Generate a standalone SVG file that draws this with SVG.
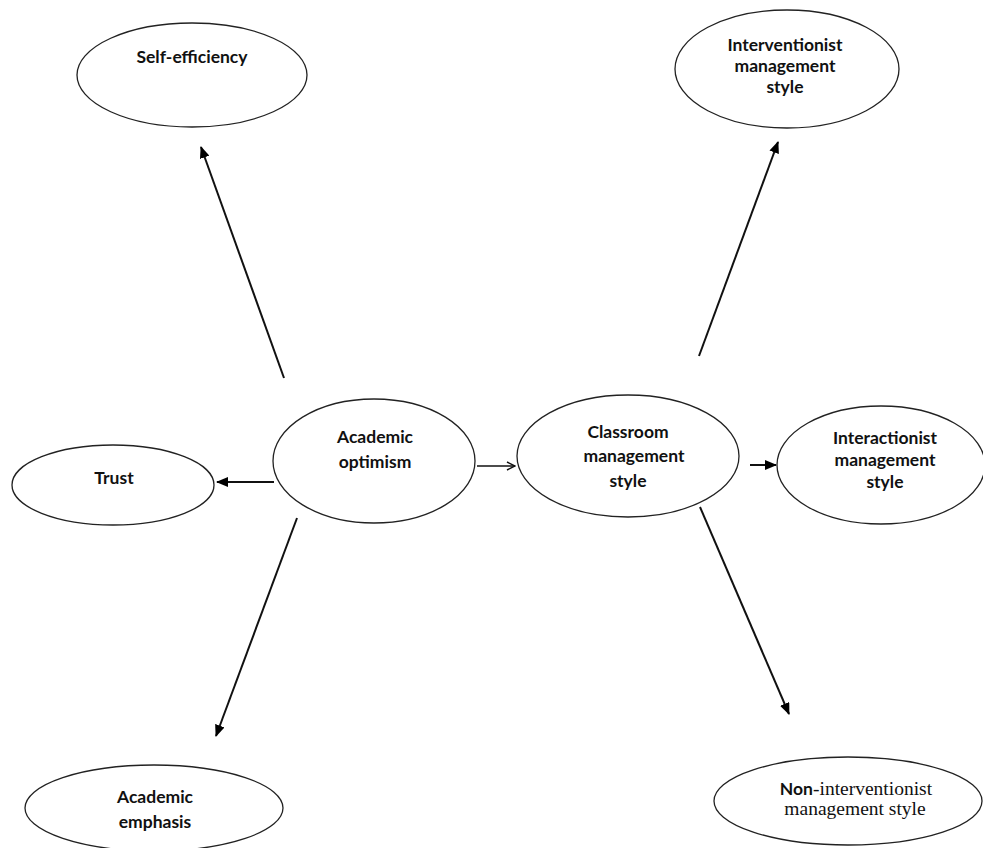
<svg xmlns="http://www.w3.org/2000/svg" width="983" height="848" viewBox="0 0 983 848">
<style>
.n{fill:#fff;stroke:#222;stroke-width:1.3}
.t{font-family:Lato,"Liberation Sans",sans-serif;font-weight:700;font-size:17.5px;fill:#111;text-anchor:middle}
.s{font-family:"Liberation Serif",serif;font-size:19.5px;fill:#111;text-anchor:middle}
.c{stroke:#111;stroke-width:2;fill:none}
</style>
<defs>
<marker id="a" markerWidth="12" markerHeight="10" refX="11" refY="5" orient="auto" markerUnits="userSpaceOnUse">
<path d="M0,0 L12,5 L0,10 Z" fill="#000"/>
</marker>
<marker id="o" markerWidth="10" markerHeight="10" refX="9" refY="5" orient="auto" markerUnits="userSpaceOnUse">
<path d="M1,1 L9,5 L1,9" fill="none" stroke="#111" stroke-width="1.5"/>
</marker>
</defs>
<g id="connectors">
<line class="c" x1="284" y1="378" x2="201" y2="147" marker-end="url(#a)"/>
<line class="c" x1="274" y1="482" x2="217" y2="482" marker-end="url(#a)"/>
<line class="c" x1="297" y1="518" x2="216" y2="736" marker-end="url(#a)"/>
<line class="c" style="stroke-width:1.5" x1="477" y1="466" x2="515" y2="466" marker-end="url(#o)"/>
<line class="c" x1="699" y1="356" x2="778" y2="142" marker-end="url(#a)"/>
<line class="c" x1="750" y1="465" x2="776" y2="465" marker-end="url(#a)"/>
<line class="c" x1="700" y1="507" x2="789" y2="714" marker-end="url(#a)"/>
</g>
<g id="self-efficiency">
<ellipse class="n" cx="192" cy="75" rx="115" ry="52"/>
<text class="t" x="192" y="63">Self-efficiency</text>
</g>
<g id="interventionist">
<ellipse class="n" cx="787" cy="69" rx="112" ry="59"/>
<text class="t" x="785" y="51">Interventionist</text>
<text class="t" x="785" y="72">management</text>
<text class="t" x="785" y="93">style</text>
</g>
<g id="trust">
<ellipse class="n" cx="113" cy="485" rx="101" ry="40"/>
<text class="t" x="114" y="484">Trust</text>
</g>
<g id="academic-optimism">
<ellipse class="n" cx="374" cy="461" rx="101" ry="62"/>
<text class="t" x="375" y="443">Academic</text>
<text class="t" x="375" y="468">optimism</text>
</g>
<g id="classroom">
<ellipse class="n" cx="628" cy="456" rx="111" ry="61"/>
<text class="t" x="628" y="438">Classroom</text>
<text class="t" x="634" y="462">management</text>
<text class="t" x="628" y="487">style</text>
</g>
<g id="interactionist">
<ellipse class="n" cx="881" cy="465" rx="104" ry="59"/>
<text class="t" x="885" y="444">Interactionist</text>
<text class="t" x="885" y="466">management</text>
<text class="t" x="885" y="488">style</text>
</g>
<g id="academic-emphasis">
<ellipse class="n" cx="154" cy="808" rx="129" ry="43"/>
<text class="t" x="155" y="803">Academic</text>
<text class="t" x="155" y="828">emphasis</text>
</g>
<g id="non-interventionist">
<ellipse class="n" cx="848" cy="801" rx="134" ry="44"/>
<text class="s" x="856" y="795"><tspan style="font-family:Lato,'Liberation Sans',sans-serif;font-weight:700;font-size:17.5px">Non</tspan>-interventionist</text>
<text class="s" x="855" y="815">management style</text>
</g>
</svg>
